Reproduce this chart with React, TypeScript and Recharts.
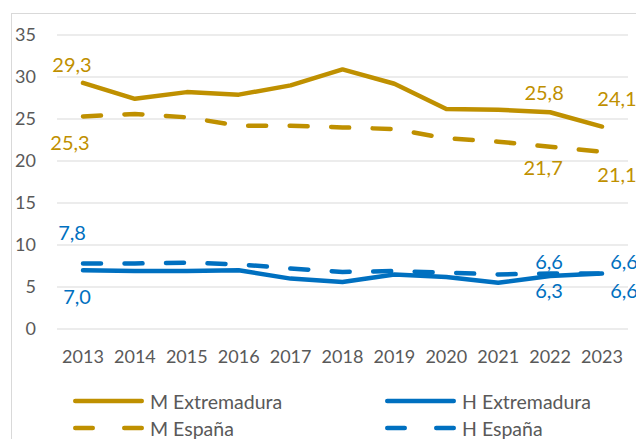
import { CartesianGrid, LabelList, Legend, Line, LineChart, XAxis, YAxis } from "recharts";

const years = ["2013", "2014", "2015", "2016", "2017", "2018", "2019", "2020", "2021", "2022", "2023"];
const mExtremadura = [29.3, 27.4, 28.2, 27.9, 29.0, 30.9, 29.2, 26.2, 26.1, 25.8, 24.1];
const hExtremadura = [7.0, 6.9, 6.9, 7.0, 6.0, 5.6, 6.5, 6.2, 5.5, 6.3, 6.6];
const mEspana = [25.3, 25.6, 25.2, 24.2, 24.2, 24.0, 23.8, 22.7, 22.3, 21.7, 21.1];
const hEspana = [7.8, 7.8, 7.9, 7.7, 7.2, 6.8, 6.9, 6.7, 6.5, 6.6, 6.6];
const yTicks = [0, 5, 10, 15, 20, 25, 30, 35];
const labelledIndices = [0, 9, 10];

const GOLD = "#BF9000";
const BLUE = "#0070C0";
const GREY = "#595959";
const FONT = "Lato, 'Noto Sans', sans-serif";
const DASH = "18 23.5";

const data = years.map((year, i) => ({
  year,
  mExt: mExtremadura[i],
  hExt: hExtremadura[i],
  mEsp: mEspana[i],
  hEsp: hEspana[i],
}));

type Offset = [number, number];

// label offsets (dx, dy) from the point, one per labelled index
const labelOffsets: Record<string, Offset[]> = {
  mExt: [[-11, -19], [-6, -20], [15, -29]],
  mEsp: [[-13, 26], [-7, 20], [15, 22]],
  hEsp: [[-11, -31], [-1, -13], [22, -13]],
  hExt: [[-6, 26], [-1, 14], [22, 16]],
};

const fmt = (v: number) => v.toFixed(1).replace(".", ",");

function makeLabel(key: string, color: string) {
  return (props: any) => {
    const { x, y, value, index } = props;
    const slot = labelledIndices.indexOf(index);
    if (slot < 0) return null;
    const [dx, dy] = labelOffsets[key][slot];
    return (
      <text
        x={Number(x) + dx}
        y={Number(y) + dy}
        textAnchor="middle"
        dominantBaseline="central"
        fill={color}
        fontSize={20}
        fontFamily={FONT}
      >
        {fmt(Number(value))}
      </text>
    );
  };
}

const legendItems = [
  { label: "M Extremadura", color: GOLD, dashed: false },
  { label: "H Extremadura", color: BLUE, dashed: false },
  { label: "M España", color: GOLD, dashed: true },
  { label: "H España", color: BLUE, dashed: true },
];

function LegendContent() {
  return (
    <div style={{ position: "relative", width: 636, height: 52 }}>
      {legendItems.map((item, i) => {
        const left = i % 2 === 0 ? 73 : 385;
        const top = i < 2 ? 0 : 27;
        return (
          <div
            key={item.label}
            style={{
              position: "absolute",
              left,
              top,
              height: 26,
              display: "flex",
              alignItems: "center",
              whiteSpace: "nowrap",
            }}
          >
            <svg width={71} height={8} style={{ display: "block" }}>
              <line
                x1={2.25}
                x2={68.75}
                y1={4}
                y2={4}
                stroke={item.color}
                strokeWidth={4.5}
                strokeLinecap="round"
                strokeDasharray={item.dashed ? "17.5 31.5" : undefined}
              />
            </svg>
            <span
              style={{
                marginLeft: 6,
                fontFamily: FONT,
                fontSize: 19.5,
                color: GREY,
              }}
            >
              {item.label}
            </span>
          </div>
        );
      })}
    </div>
  );
}

export default function App() {
  return (
    <div
      style={{
        position: "absolute",
        left: 0,
        top: 0,
        width: 636,
        height: 439,
        overflow: "hidden",
        background: "#fff",
      }}
    >
      <div
        style={{
          position: "absolute",
          left: 11,
          top: 13,
          width: 625,
          height: 426,
          borderLeft: "1px solid #D9D9D9",
          borderTop: "1px solid #D9D9D9",
        }}
      />
      <LineChart
        width={636}
        height={439}
        data={data}
        margin={{ top: 35, right: 8, bottom: 80, left: 0 }}
        style={{ position: "absolute", left: 0, top: 0 }}
      >
        <CartesianGrid stroke="#D9D9D9" vertical={false} />
        <XAxis
          dataKey="year"
          scale="point"
          padding={{ left: 26, right: 26 }}
          axisLine={false}
          tickLine={false}
          tickSize={0}
          tickMargin={21}
          height={30}
          interval={0}
          tick={{ fill: GREY, fontSize: 18, fontFamily: FONT }}
        />
        <YAxis
          domain={[0, 35]}
          ticks={yTicks}
          axisLine={false}
          tickLine={false}
          tickSize={0}
          tickMargin={21}
          width={57}
          tick={{ fill: GREY, fontSize: 18, fontFamily: FONT }}
        />
        <Legend
          layout="horizontal"
          verticalAlign="middle"
          align="center"
          content={<LegendContent />}
          wrapperStyle={{ left: 0, top: 388, width: 636, height: 52 }}
        />
        <Line
          dataKey="mExt"
          stroke={GOLD}
          strokeWidth={4.5}
          strokeLinecap="round"
          strokeLinejoin="round"
          dot={false}
          isAnimationActive={false}
        >
          <LabelList dataKey="mExt" content={makeLabel("mExt", GOLD)} />
        </Line>
        <Line
          dataKey="hExt"
          stroke={BLUE}
          strokeWidth={4.5}
          strokeLinecap="round"
          strokeLinejoin="round"
          dot={false}
          isAnimationActive={false}
        >
          <LabelList dataKey="hExt" content={makeLabel("hExt", BLUE)} />
        </Line>
        <Line
          dataKey="mEsp"
          stroke={GOLD}
          strokeWidth={4.5}
          strokeDasharray={DASH}
          strokeLinecap="round"
          dot={false}
          isAnimationActive={false}
        >
          <LabelList dataKey="mEsp" content={makeLabel("mEsp", GOLD)} />
        </Line>
        <Line
          dataKey="hEsp"
          stroke={BLUE}
          strokeWidth={4.5}
          strokeDasharray={DASH}
          strokeLinecap="round"
          dot={false}
          isAnimationActive={false}
        >
          <LabelList dataKey="hEsp" content={makeLabel("hEsp", BLUE)} />
        </Line>
      </LineChart>
    </div>
  );
}
